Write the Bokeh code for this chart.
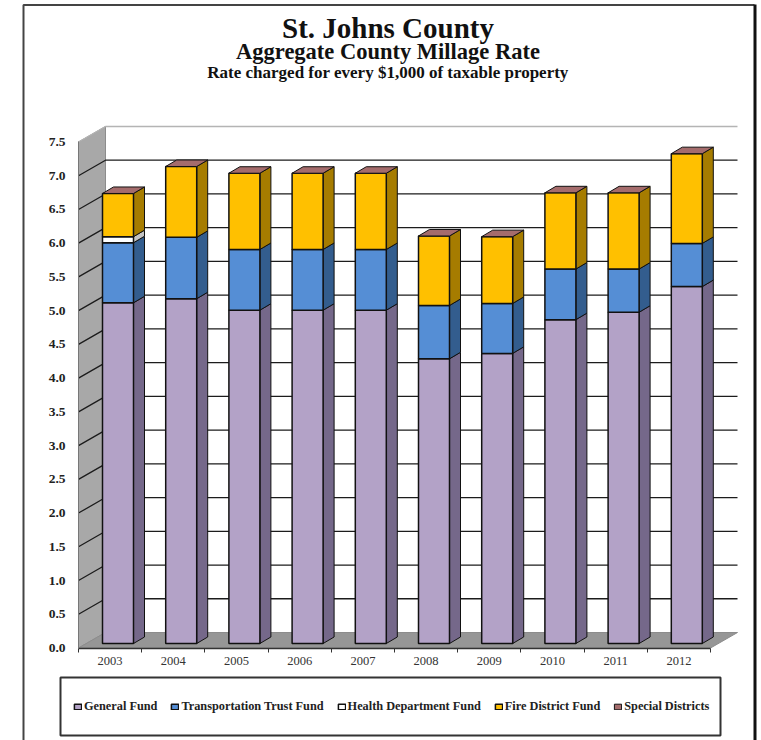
from bokeh.plotting import figure
from bokeh.models import Range1d, LinearAxis, FixedTicker, Legend, LegendItem, ColumnDataSource, NumeralTickFormatter
from bokeh.core.properties import value
from bokeh.embed import file_html
from bokeh.resources import INLINE

years = [2003, 2004, 2005, 2006, 2007, 2008, 2009, 2010, 2011, 2012]
general_fund = [5.05, 5.11, 4.94, 4.94, 4.94, 4.22, 4.30, 4.80, 4.91, 5.29]
transportation = [0.89, 0.91, 0.90, 0.90, 0.90, 0.79, 0.74, 0.75, 0.64, 0.64]
health_dept = [0.09, 0.0, 0.0, 0.0, 0.0, 0.0, 0.0, 0.0, 0.0, 0.0]
fire_district = [0.64, 1.05, 1.13, 1.13, 1.13, 1.03, 0.99, 1.13, 1.13, 1.33]
special_districts = [0.0, 0.0, 0.0, 0.0, 0.0, 0.0, 0.0, 0.0, 0.0, 0.0]
y_ticks = [0.0, 0.5, 1.0, 1.5, 2.0, 2.5, 3.0, 3.5, 4.0, 4.5, 5.0, 5.5, 6.0, 6.5, 7.0, 7.5]
names = ["General Fund", "Transportation Trust Fund", "Health Department Fund", "Fire District Fund"]
front_colors = ["#b3a2c7", "#558ed5", "#ffffff", "#ffc000"]
side_colors = ["#75688a", "#335d8e", "#c4c4c4", "#a67c00"]
top_color = "#a56c6c"
SERIF = "Liberation Serif"

W, H = 761, 740
PX_X = 63.2      # px per year
PX_Y = 67.47     # px per unit
X0 = 109.6       # page px of 2003
Y0 = 647.5       # page px of 0.0


def dx(px):
    return px / PX_X


def dy(px):
    return px / PX_Y


def px_x(px):
    return years[0] + (px - X0) / PX_X


def px_y(px):
    return (Y0 - px) / PX_Y


p = figure(width=W, height=H, output_backend="svg", toolbar_location=None,
           x_range=Range1d(px_x(0), px_x(W)), y_range=Range1d(px_y(H), px_y(0)),
           x_axis_location=None, y_axis_location=None, min_border=0,
           background_fill_color="white", border_fill_color="white",
           outline_line_color=None)
p.grid.visible = False

x_left = years[0] - 0.5
x_right = years[-1] + 0.5
DEPTH_X, DEPTH_Y = dx(27), dy(15.5)
y_top = y_ticks[-1]

# walls and floor
p.patch([x_left, x_left + DEPTH_X, x_left + DEPTH_X, x_left],
        [0, DEPTH_Y, y_top + DEPTH_Y, y_top], fill_color="#a8a8a8", line_color="#8c8c8c", line_width=1)
p.patch([x_left, x_left + DEPTH_X, x_right + DEPTH_X, x_right],
        [0, DEPTH_Y, DEPTH_Y, 0], fill_color="#969696", line_color="#8c8c8c", line_width=1)

# grid lines
grid = y_ticks[1:]
p.multi_line([[x_left, x_left + DEPTH_X, x_right + DEPTH_X] for _ in grid],
             [[t, t + DEPTH_Y, t + DEPTH_Y] for t in grid],
             line_color=["#b4b4b4" if t == y_top else "#1c1c1c" for t in grid], line_width=1.3)

# bars
OFF_X, BASE = dx(7.9), dy(4.5)
HALF = dx(15.5)
SIDE_X, SIDE_Y = dx(11), dy(6.5)
series = [general_fund, transportation, health_dept, fire_district]
totals = [BASE] * len(years)
renderers = []
for vals, front, side in zip(series, front_colors, side_colors):
    pts = [(y, b, b + v) for y, b, v in zip(years, totals, vals) if v > 0]
    totals = [b + v for b, v in zip(totals, vals)]
    r_x = [y + OFF_X + HALF for y, _, _ in pts]
    p.patches([[x, x + SIDE_X, x + SIDE_X, x] for x in r_x],
              [[b, b + SIDE_Y, t + SIDE_Y, t] for (_, b, t) in pts],
              fill_color=side, line_color="#111111", line_width=1)
    src = ColumnDataSource(dict(left=[y + OFF_X - HALF for y, _, _ in pts], right=r_x,
                                bottom=[b for _, b, _ in pts], top=[t for _, _, t in pts]))
    renderers.append(p.quad(left="left", right="right", bottom="bottom", top="top", source=src,
                            fill_color=front, line_color="#111111", line_width=1.5))

tops = [b + s for b, s in zip(totals, special_districts)]
top_r = p.patches([[y + OFF_X - HALF, y + OFF_X + HALF, y + OFF_X + HALF + SIDE_X, y + OFF_X - HALF + SIDE_X] for y in years],
                  [[t, t, t + SIDE_Y, t + SIDE_Y] for t in tops],
                  fill_color=top_color, line_color="#111111", line_width=1)
renderers.append(top_r)

# axes
yaxis = LinearAxis(fixed_location=x_left, ticker=FixedTicker(ticks=y_ticks), bounds=(0, y_top))
yaxis.axis_line_color = "#777777"
yaxis.major_tick_line_color = None
yaxis.minor_tick_line_color = None
yaxis.major_label_standoff = 7
yaxis.major_label_text_font = SERIF
yaxis.major_label_text_font_style = "bold"
yaxis.major_label_text_font_size = "13.5px"
yaxis.major_label_text_color = "#222222"
yaxis.formatter = NumeralTickFormatter(format="0.0")
p.add_layout(yaxis, "left")

xaxis = LinearAxis(fixed_location=0, bounds=(x_left, x_right),
                   ticker=FixedTicker(ticks=years, minor_ticks=[y - 0.5 for y in years] + [x_right]))
xaxis.axis_line_color = "#333333"
xaxis.axis_line_width = 1.5
xaxis.major_tick_line_color = None
xaxis.minor_tick_line_color = "#333333"
xaxis.minor_tick_out = 4
xaxis.minor_tick_in = 0
xaxis.major_label_standoff = 3
xaxis.major_label_text_font = SERIF
xaxis.major_label_text_font_size = "12.5px"
xaxis.major_label_text_color = "#333333"
xaxis.formatter = NumeralTickFormatter(format="0")
p.add_layout(xaxis, "below")

# page frame and legend box
p.quad(left=[px_x(60)], right=[px_x(720)], bottom=[px_y(735)], top=[px_y(677)],
       fill_color="white", line_color="#333333", line_width=2)
p.line([px_x(23), px_x(23), px_x(754)], [px_y(740), px_y(4.5), px_y(4.5)], line_color="#444444", line_width=2)
p.line([px_x(754.5), px_x(754.5)], [px_y(4), px_y(740)], line_color="#111111", line_width=3)

# titles
titles = [("St. Johns County", 27.5, "29px"), ("Aggregate County Millage Rate", 50.5, "22.5px"),
          ("Rate charged for every $1,000 of taxable property", 71.5, "17px")]
for txt, py, size in titles:
    p.text([px_x(387.5)], [px_y(py)], text=[txt], text_font=value(SERIF), text_font_style="bold",
           text_font_size=size, text_align="center", text_baseline="middle", text_color="#111111")

legend = Legend(items=[LegendItem(label=n, renderers=[r]) for n, r in zip(names + ["Special Districts"], renderers)],
                orientation="horizontal", location=(73, 26), background_fill_alpha=0,
                border_line_color=None, padding=4, margin=0, spacing=13, label_standoff=2,
                glyph_width=9, glyph_height=7, label_text_font=SERIF, label_text_font_style="bold",
                label_text_font_size="12.3px", label_text_color="#222222", label_height=12)
p.add_layout(legend)

open("out.html", "w").write(file_html(p, INLINE))
